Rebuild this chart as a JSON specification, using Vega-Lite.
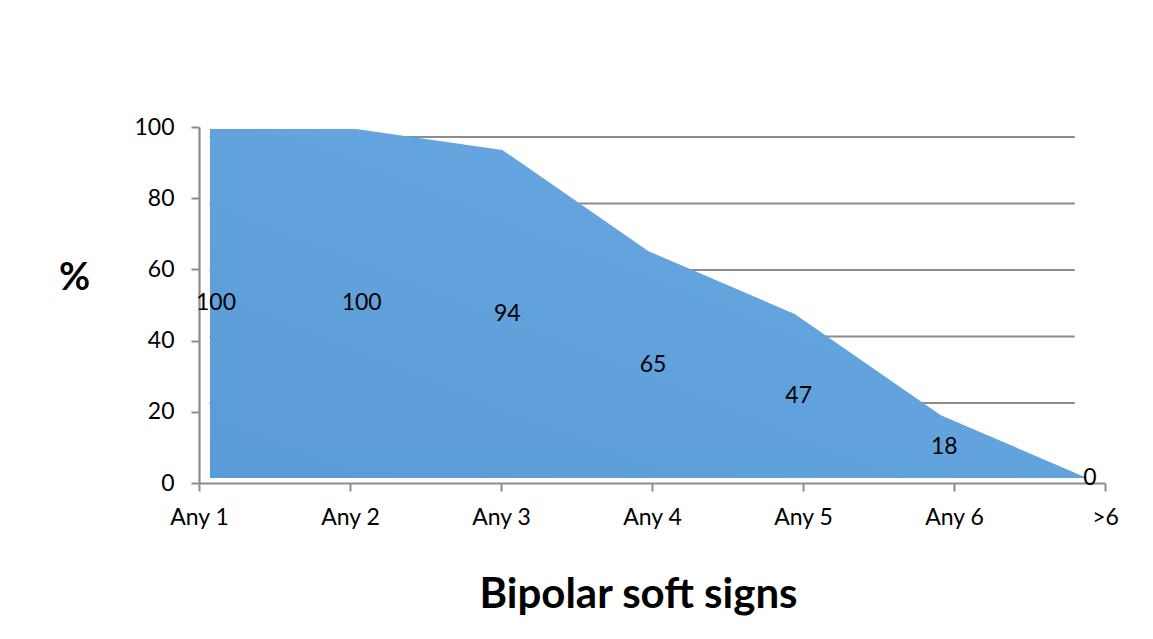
{
  "$schema": "https://vega.github.io/schema/vega-lite/v6.json",
  "width": 906,
  "height": 356,
  "autosize": {"type": "none"},
  "padding": {"left": 199, "top": 127, "right": 48, "bottom": 156},
  "background": "white",
  "config": {"view": {"stroke": null}, "font": "Lato"},
  "datasets": {
    "main": [
      {"cat": "Any 1", "value": 100},
      {"cat": "Any 2", "value": 100},
      {"cat": "Any 3", "value": 94},
      {"cat": "Any 4", "value": 65},
      {"cat": "Any 5", "value": 47},
      {"cat": "Any 6", "value": 18},
      {"cat": ">6", "value": 0}
    ],
    "grid": [{"g": 20}, {"g": 40}, {"g": 60}, {"g": 80}, {"g": 100}]
  },
  "resolve": {"scale": {"x": "independent", "y": "independent"}, "axis": {"x": "independent", "y": "independent"}},
  "layer": [
    {
      "data": {"name": "grid"},
      "mark": {"type": "rule", "color": "#8c8c8c", "strokeWidth": 2.2},
      "encoding": {
        "y": {"field": "g", "type": "quantitative", "scale": {"domain": [-4.06, 103.01], "nice": false, "zero": false}, "axis": null},
        "x": {"datum": 0.07, "type": "quantitative", "scale": {"domain": [0, 6], "nice": false, "zero": false}, "axis": null},
        "x2": {"datum": 5.8}
      }
    },
    {
      "data": {"name": "main"},
      "mark": {"type": "point", "opacity": 0},
      "encoding": {
        "x": {
          "field": "cat", "type": "ordinal", "sort": null,
          "scale": {"type": "point", "padding": 0},
          "axis": {
            "labelAngle": 0, "labelFontSize": 23, "labelColor": "black", "labelPadding": 15,
            "domainColor": "#8c8c8c", "domainWidth": 2.2, "tickColor": "#8c8c8c", "tickWidth": 2, "tickSize": 8,
            "title": "Bipolar soft signs", "titleFontSize": 42, "titleFontWeight": "bold", "titleColor": "black",
            "titleX": 439, "titleY": 111, "titleBaseline": "middle", "titleAlign": "center"
          }
        },
        "y": {
          "field": "value", "type": "quantitative",
          "scale": {"domain": [0, 100], "nice": false},
          "axis": {
            "values": [0, 20, 40, 60, 80, 100], "grid": false,
            "labelFontSize": 23, "labelColor": "black", "labelPadding": 17,
            "domainColor": "#8c8c8c", "domainWidth": 2.2, "tickColor": "#8c8c8c", "tickWidth": 2, "tickSize": 8,
            "title": "%", "titleFontSize": 38, "titleFontWeight": "bold", "titleColor": "black",
            "titleAngle": 0, "titleX": -125, "titleY": 151, "titleAlign": "center", "titleBaseline": "middle"
          }
        }
      }
    },
    {
      "data": {"name": "main"},
      "mark": {
        "type": "area",
        "color": {"gradient": "linear", "x1": 0, "y1": 1, "x2": 1, "y2": 0,
          "stops": [{"offset": 0, "color": "#5A9AD6"}, {"offset": 1, "color": "#6BABE4"}]}
      },
      "encoding": {
        "x": {"field": "cat", "type": "ordinal", "sort": null, "scale": {"type": "point", "padding": 0, "range": [11, 888]}, "axis": null},
        "y": {"field": "value", "type": "quantitative", "scale": {"domain": [-1.43, 100.57], "nice": false, "zero": false}, "axis": null}
      }
    },
    {
      "data": {"name": "main"},
      "mark": {"type": "text", "fontSize": 23, "color": "black", "align": "center", "baseline": "middle"},
      "encoding": {
        "x": {"field": "cat", "type": "ordinal", "sort": null, "scale": {"type": "point", "padding": 0, "range": [17, 891]}, "axis": null},
        "y": {"field": "value", "type": "quantitative", "scale": {"domain": [-2.86, 201.14], "nice": false, "zero": false}, "axis": null},
        "text": {"field": "value", "type": "quantitative"}
      }
    }
  ]
}
